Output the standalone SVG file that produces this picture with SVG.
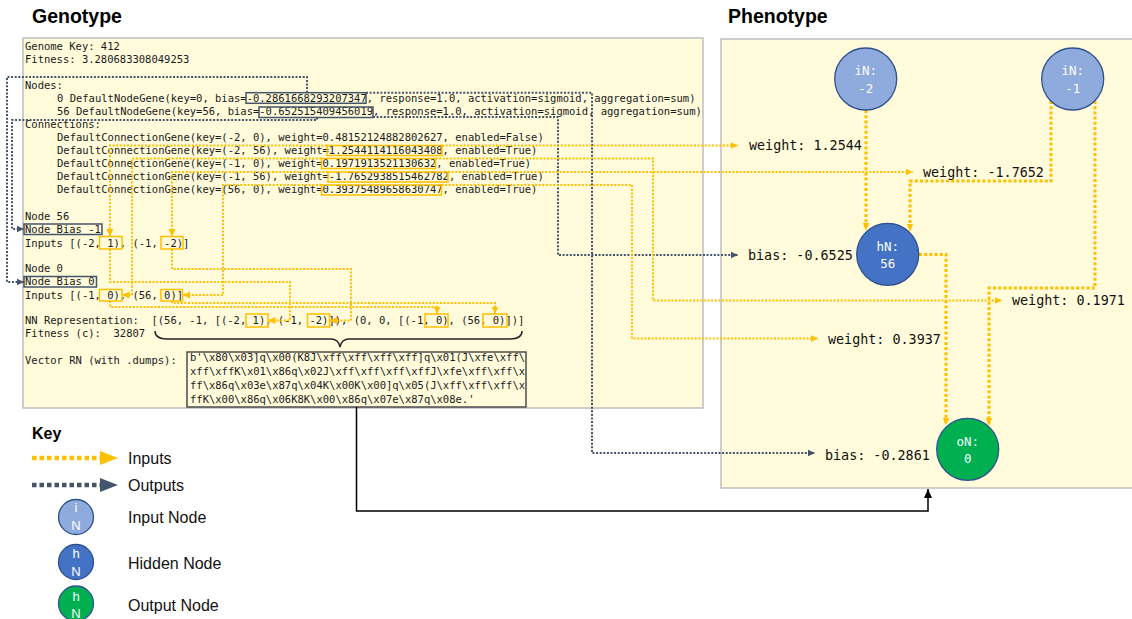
<svg xmlns="http://www.w3.org/2000/svg" width="1132" height="619" viewBox="0 0 1132 619">
<defs>
<style>
.title{font-family:"Liberation Sans",Arial,sans-serif;font-weight:bold;fill:#000}
.mono{font-family:"DejaVu Sans Mono","Liberation Mono",monospace;font-size:10.5px;fill:#1a1a1a;white-space:pre}
.pl{font-family:"DejaVu Sans Mono","Liberation Mono",monospace;font-size:13.4px;fill:#111;white-space:pre}
.nl{font-family:"DejaVu Sans Mono","Liberation Mono",monospace;font-size:12.5px;fill:#fff;text-anchor:middle}
.kl{font-family:"Liberation Sans",Arial,sans-serif;font-size:16px;fill:#111}
.kn{font-family:"Liberation Sans",Arial,sans-serif;font-size:13px;fill:#fff;text-anchor:middle}
.panel{fill:#FFFBDB;stroke:#BFBFBF;stroke-width:1.5}
.ob{fill:none;stroke:#FFC000;stroke-width:1.5}
.db{fill:none;stroke:#44546A;stroke-width:1.5}
.o{fill:none;stroke:#FFC000;stroke-width:2;stroke-dasharray:2 1.6}
.o3{fill:none;stroke:#FFC000;stroke-width:3;stroke-dasharray:3 2.2}
.d{fill:none;stroke:#44546A;stroke-width:2;stroke-dasharray:2 1.6}
.iN{fill:#8FAADC;stroke:#2F528F;stroke-width:1.3}
.hN{fill:#4472C4;stroke:#2F528F;stroke-width:1.3}
.oN{fill:#00B050;stroke:#2F528F;stroke-width:1.3}
</style>
<marker id="ao" markerUnits="userSpaceOnUse" markerWidth="8" markerHeight="8" refX="7.5" refY="4" orient="auto"><path d="M0,0.5 L7.5,4 L0,7.5 z" fill="#FFC000"/></marker>
<marker id="ad" markerUnits="userSpaceOnUse" markerWidth="8" markerHeight="8" refX="7.5" refY="4" orient="auto"><path d="M0,0.5 L7.5,4 L0,7.5 z" fill="#44546A"/></marker>
<marker id="ab" markerUnits="userSpaceOnUse" markerWidth="10" markerHeight="10" refX="9" refY="5" orient="auto"><path d="M0,1 L9,5 L0,9 z" fill="#000"/></marker>
</defs>

<g id="genotype">
<text class="title" x="32" y="23" font-size="19.5">Genotype</text>
<rect class="panel" x="23" y="38" width="680" height="370"/>
<text class="mono" x="25" y="50">Genome Key: 412</text>
<text class="mono" x="25" y="63">Fitness: 3.280683308049253</text>
<text class="mono" x="25" y="89">Nodes:</text>
<text class="mono" x="57" y="102">0 DefaultNodeGene(key=0, bias=-0.2861668293207347, response=1.0, activation=sigmoid, aggregation=sum)</text>
<text class="mono" x="57" y="115">56 DefaultNodeGene(key=56, bias=-0.652515409456019, response=1.0, activation=sigmoid, aggregation=sum)</text>
<text class="mono" x="25" y="128">Connections:</text>
<text class="mono" x="57" y="141">DefaultConnectionGene(key=(-2, 0), weight=0.48152124882802627, enabled=False)</text>
<text class="mono" x="57" y="154">DefaultConnectionGene(key=(-2, 56), weight=1.2544114116043408, enabled=True)</text>
<text class="mono" x="57" y="167">DefaultConnectionGene(key=(-1, 0), weight=0.1971913521130632, enabled=True)</text>
<text class="mono" x="57" y="180">DefaultConnectionGene(key=(-1, 56), weight=-1.7652938515462782, enabled=True)</text>
<text class="mono" x="57" y="193">DefaultConnectionGene(key=(56, 0), weight=0.39375489658630747, enabled=True)</text>
<text class="mono" x="25" y="219.5">Node 56</text>
<text class="mono" x="25" y="233">Node Bias -1</text>
<text class="mono" x="25" y="246.5">Inputs [(-2, 1), (-1, -2)]</text>
<text class="mono" x="25" y="272">Node 0</text>
<text class="mono" x="25" y="285.3">Node Bias 0</text>
<text class="mono" x="25" y="298.7">Inputs [(-1, 0), (56, 0)]</text>
<text class="mono" x="25" y="324.3">NN Representation:  [(56, -1, [(-2, 1), (-1, -2)]), (0, 0, [(-1, 0), (56, 0)])]</text>
<text class="mono" x="25" y="337">Fitness (c):  32807</text>
<text class="mono" x="25" y="363.7">Vector RN (with .dumps):</text>
<path d="M155 331 C155 337 160 339 167 339 L331 339 C336 339 339 342 340 347 C341 342 344 339 349 339 L510 339 C517 339 522 337 522 331" fill="none" stroke="#262626" stroke-width="1.5"/>
<rect x="187" y="352" width="339" height="55" fill="none" stroke="#404040" stroke-width="1.4"/>
<text class="mono" x="190" y="360.7">b'\x80\x03]q\x00(K8J\xff\xff\xff\xff]q\x01(J\xfe\xff\</text>
<text class="mono" x="190" y="374.7">xff\xffK\x01\x86q\x02J\xff\xff\xff\xffJ\xfe\xff\xff\x</text>
<text class="mono" x="190" y="388.7">ff\x86q\x03e\x87q\x04K\x00K\x00]q\x05(J\xff\xff\xff\x</text>
<text class="mono" x="190" y="402.5">ffK\x00\x86q\x06K8K\x00\x86q\x07e\x87q\x08e.'</text>
<rect class="db" x="246" y="92.7" width="120" height="10.6"/>
<rect class="db" x="259" y="107" width="114" height="10.5"/>
<rect class="ob" x="327" y="145.5" width="115" height="10"/>
<rect class="ob" x="321.5" y="158.5" width="114" height="10"/>
<rect class="ob" x="328" y="172" width="120" height="10"/>
<rect class="ob" x="321.5" y="185" width="120" height="10"/>
<rect class="db" x="24" y="224" width="78" height="10.5"/>
<rect class="db" x="24" y="276.5" width="72.5" height="10.5"/>
<rect class="ob" x="99.5" y="236.5" width="22.5" height="12.5"/>
<rect class="ob" x="161" y="236.5" width="22" height="12.5"/>
<rect class="ob" x="99.5" y="289.5" width="22.5" height="11.5"/>
<rect class="ob" x="161" y="289.5" width="21.5" height="11.5"/>
<rect class="ob" x="246" y="314" width="22" height="13"/>
<rect class="ob" x="307.5" y="314" width="22" height="13"/>
<rect class="ob" x="425" y="314" width="23" height="13"/>
<rect class="ob" x="483" y="314" width="24" height="13"/>
</g>

<g id="phenotype">
<text class="title" x="728" y="23" font-size="19.5">Phenotype</text>
<rect class="panel" x="721" y="39" width="420" height="449"/>
</g>

<g id="connectors">
<path class="d" d="M307 92.7 V77 H7 V282 H24" marker-end="url(#ad)"/>
<path class="d" d="M317 117.5 V120 H12 V229 H24" marker-end="url(#ad)"/>
<path class="d" d="M366 92.7 H592 V453 H815" marker-end="url(#ad)"/>
<path class="d" d="M373 117 H558 V255 H738" marker-end="url(#ad)"/>
<path class="o" d="M442 145.5 H738" marker-end="url(#ao)"/>
<path class="o" d="M327 145.5 H110 V236.5" marker-end="url(#ao)"/>
<path class="o" d="M110 249 V282 H290 V320.5 H268" marker-end="url(#ao)"/>
<path class="o" d="M321.5 158.5 H132 V295 H122" marker-end="url(#ao)"/>
<path class="o" d="M435.5 158.5 H653 V300.5 H1002" marker-end="url(#ao)"/>
<path class="o" d="M110 301 V307 H437 V314" marker-end="url(#ao)"/>
<path class="o" d="M328 172 H172 V236.5" marker-end="url(#ao)"/>
<path class="o" d="M448 172 H913" marker-end="url(#ao)"/>
<path class="o" d="M172 249 V269 H351 V320.5 H329.5" marker-end="url(#ao)"/>
<path class="o" d="M321.5 185 H223 V295 H182.5" marker-end="url(#ao)"/>
<path class="o" d="M441.5 185 H632 V338.5 H818" marker-end="url(#ao)"/>
<path class="o" d="M172 301 V303 H495 V314" marker-end="url(#ao)"/>
<path class="o3" d="M866 110 V230" marker-end="url(#ao)"/>
<path class="o3" d="M1051 101 V181 H910 V231" marker-end="url(#ao)"/>
<path class="o3" d="M1095 101 V288 H989 V425" marker-end="url(#ao)"/>
<path class="o3" d="M919 254.5 H946 V425" marker-end="url(#ao)"/>
<path d="M356.5 407 V511 H928 V489" fill="none" stroke="#000" stroke-width="1.5" marker-end="url(#ab)"/>
</g>

<g id="labels">
<text class="pl" x="749" y="150">weight: 1.2544</text>
<text class="pl" x="923" y="176.5">weight: -1.7652</text>
<text class="pl" x="748" y="259.5">bias: -0.6525</text>
<text class="pl" x="1012" y="305">weight: 0.1971</text>
<text class="pl" x="828" y="343.5">weight: 0.3937</text>
<text class="pl" x="825" y="459.5">bias: -0.2861</text>
</g>

<g id="node-in-2">
<circle class="iN" cx="865.7" cy="79" r="31"/>
<text class="nl" x="865.7" y="75">iN:</text>
<text class="nl" x="865.7" y="92.5">-2</text>
</g>
<g id="node-in-1">
<circle class="iN" cx="1072.7" cy="79" r="31"/>
<text class="nl" x="1072.7" y="75">iN:</text>
<text class="nl" x="1072.7" y="92.5">-1</text>
</g>
<g id="node-h56">
<circle class="hN" cx="887.7" cy="254.3" r="31"/>
<text class="nl" x="887.7" y="250.5">hN:</text>
<text class="nl" x="887.7" y="268">56</text>
</g>
<g id="node-o0">
<circle class="oN" cx="967.7" cy="449.3" r="31"/>
<text class="nl" x="967.7" y="445.5">oN:</text>
<text class="nl" x="967.7" y="463">0</text>
</g>

<g id="key">
<text class="title" x="32" y="439" font-size="16">Key</text>
<line x1="32" y1="458" x2="101" y2="458" stroke="#FFC000" stroke-width="4.5" stroke-dasharray="4.5 3"/>
<polygon points="100,451 118,458 100,465" fill="#FFC000"/>
<text class="kl" x="128" y="464">Inputs</text>
<line x1="32" y1="485" x2="101" y2="485" stroke="#44546A" stroke-width="4.5" stroke-dasharray="4.5 3"/>
<polygon points="100,478 118,485 100,492" fill="#44546A"/>
<text class="kl" x="128" y="490.5">Outputs</text>
<circle class="iN" cx="76" cy="517" r="17.5"/>
<text class="kn" x="76" y="512">i</text>
<text class="kn" x="76" y="529.5">N</text>
<text class="kl" x="128" y="522.5">Input Node</text>
<circle class="hN" cx="76" cy="562" r="17.5"/>
<text class="kn" x="76" y="557.5">h</text>
<text class="kn" x="76" y="575.5">N</text>
<text class="kl" x="128" y="568.5">Hidden Node</text>
<circle class="oN" cx="76" cy="603.5" r="17.5"/>
<text class="kn" x="76" y="601">h</text>
<text class="kn" x="76" y="618">N</text>
<text class="kl" x="128" y="610.5">Output Node</text>
</g>
</svg>
